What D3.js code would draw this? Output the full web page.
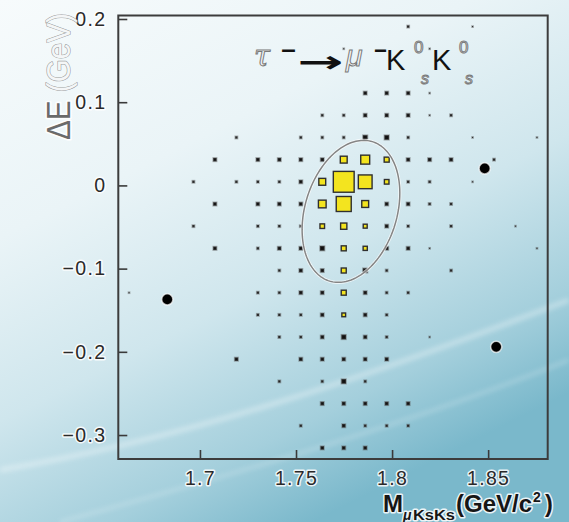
<!DOCTYPE html>
<html>
<head>
<meta charset="utf-8">
<script src="https://cdn.jsdelivr.net/npm/d3@7"></script>
<style>
  html, body { margin: 0; padding: 0; background: #ffffff; }
  svg { display: block; }
  .halo { paint-order: stroke; stroke: #ffffff; stroke-width: 3px; stroke-linejoin: round; stroke-opacity: 0.85; }
</style>
</head>
<body>
<svg id="chart" width="569" height="522"></svg>
<script>
// Axis ranges of the 2D histogram (20 x 20 bins)
const massRange = [1.6575, 1.881];     // M_{μKsKs} (GeV/c²)
const deltaERange = [-0.3288, 0.2042]; // ΔE (GeV)
const nBinsMass = 20;
const nBinsDeltaE = 20;

const massTicks = [1.7, 1.75, 1.8, 1.85];
const massTickLabels = ["1.7", "1.75", "1.8", "1.85"];
const deltaETicks = [-0.3, -0.2, -0.1, 0, 0.1, 0.2];
const deltaETickLabels = ["\u22120.3", "\u22120.2", "\u22120.1", "0", "0.1", "0.2"];

// Background MC: [mass bin, ΔE bin counted from the top, content]
const backgroundCells = [
  [13,0,2],[16,0,1],
  [10,1,1],[14,1,1],
  [11,3,3],[12,3,3],[13,3,3],[14,3,1],
  [9,4,2],[10,4,2],[11,4,3],[12,4,3],[13,4,3],[14,4,1],[15,4,2],
  [5,5,2],[8,5,2],[9,5,2],[10,5,2],[11,5,4],[12,5,4],[13,5,2],[16,5,1],[19,5,1],
  [4,6,3],[6,6,3],[7,6,3],[8,6,3],[9,6,3],[13,6,3],[14,6,3],[15,6,3],[17,6,2],
  [3,7,2],[5,7,2],[6,7,2],[7,7,2],[8,7,3],[13,7,2],[14,7,2],[16,7,1],
  [4,8,3],[6,8,3],[7,8,3],[8,8,3],[12,8,3],[13,8,3],[14,8,2],[15,8,2],
  [3,9,2],[6,9,2],[7,9,2],[8,9,2],[12,9,3],[13,9,2],[15,9,2],[18,9,1],
  [4,10,3],[6,10,2],[7,10,3],[8,10,3],[9,10,4],[12,10,3],[13,10,3],[14,10,1],[19,10,1],
  [7,11,2],[8,11,3],[9,11,3],[11,11,4],[12,11,2],[15,11,2],
  [0,12,1],[6,12,2],[7,12,2],[8,12,3],[9,12,3],[11,12,3],[12,12,2],[13,12,2],
  [6,13,2],[7,13,2],[8,13,2],[9,13,3],[11,13,3],[12,13,2],
  [7,14,2],[8,14,2],[9,14,3],[10,14,4],[11,14,3],[12,14,2],[14,14,1],
  [5,15,3],[8,15,3],[9,15,3],[10,15,3],[11,15,3],[12,15,3],
  [7,16,2],[9,16,2],[10,16,4],[11,16,2],
  [9,17,3],[10,17,3],[11,17,3],[12,17,3],[13,17,3],
  [8,18,2],[10,18,3],[11,18,2],[12,18,2],[13,18,2],
  [9,19,3],[10,19,3],[11,19,3]
];

// Signal MC: [mass bin, ΔE bin counted from the top, content]
const signalCells = [
  [10,6,33],[11,6,43],[12,6,24],
  [9,7,33],[10,7,100],[11,7,66],[12,7,22],
  [9,8,37],[10,8,72],[11,8,33],
  [9,9,22],[10,9,30],[11,9,19],
  [10,10,24],[11,10,20],
  [10,11,24],[10,12,24],[10,13,18]
];

// Observed events
const eventMass = [1.683, 1.8482, 1.8542];
const eventDeltaE = [-0.137, 0.0204, -0.194];

// Signal region ellipse: centre and two conjugate semi-axis vectors (GeV/c², GeV)
const ellipseCentre = [1.7786, -0.0312];
const ellipseAxisA = [0.01109, 0.0838];
const ellipseAxisB = [0.02288, -0.01613];

const svg = d3.select("#chart");
const W = 569, H = 522;
const frame = { left: 118.3, right: 547.7, top: 15.5, bottom: 459 };

const x = d3.scaleLinear().domain(massRange).range([frame.left, frame.right]);
const y = d3.scaleLinear().domain(deltaERange).range([frame.bottom, frame.top]);

// ---------- background ----------
const defs = svg.append("defs");
const grad = defs.append("linearGradient").attr("id", "bg")
  .attr("x1", 0).attr("y1", 0).attr("x2", 0.55).attr("y2", 1);
[[0, "#f7fbfc"], [0.35, "#eaf4f7"], [0.62, "#cfe6ed"], [0.85, "#a4cfdc"], [1, "#7ab8cb"]]
  .forEach(([o, c]) => grad.append("stop").attr("offset", o).attr("stop-color", c));
defs.append("filter").attr("id", "soft").append("feGaussianBlur").attr("stdDeviation", 2.5);

svg.append("rect").attr("width", W).attr("height", H).attr("fill", "url(#bg)");
// faint light streaks across the lower part
svg.append("path").attr("d", "M0,470 C180,440 360,380 569,300")
  .attr("fill", "none").attr("stroke", "#ffffff").attr("stroke-width", 5)
  .attr("opacity", 0.35).attr("filter", "url(#soft)");
svg.append("path").attr("d", "M60,522 C250,470 420,420 569,360")
  .attr("fill", "none").attr("stroke", "#ffffff").attr("stroke-width", 3)
  .attr("opacity", 0.25).attr("filter", "url(#soft)");

// ---------- histogram boxes ----------
const massStep = (massRange[1] - massRange[0]) / nBinsMass;
const deltaEStep = (deltaERange[1] - deltaERange[0]) / nBinsDeltaE;
const binCentreX = i => x(massRange[0] + (i + 0.5) * massStep);
const binCentreY = j => y(deltaERange[1] - (j + 0.5) * deltaEStep);
const cellWidth = x(massRange[0] + massStep) - x(massRange[0]);

const bgSize = d3.scaleLinear().domain([0, 4]).range([0, 4.6]);
svg.append("g").selectAll("rect").data(backgroundCells).join("rect")
  .attr("x", d => binCentreX(d[0]) - bgSize(d[2]) / 2)
  .attr("y", d => binCentreY(d[1]) - bgSize(d[2]) / 2)
  .attr("width", d => bgSize(d[2]))
  .attr("height", d => bgSize(d[2]))
  .attr("fill", "#111")
  .attr("stroke", "rgba(90,90,90,0.45)")
  .attr("stroke-width", 1.6);

const sigSize = d3.scaleLinear().domain([0, d3.max(signalCells, d => d[2])]).range([0, cellWidth * 0.97]);
svg.append("g").selectAll("rect").data(signalCells).join("rect")
  .attr("x", d => binCentreX(d[0]) - sigSize(d[2]) / 2)
  .attr("y", d => binCentreY(d[1]) - sigSize(d[2]) / 2)
  .attr("width", d => sigSize(d[2]))
  .attr("height", d => sigSize(d[2]))
  .attr("fill", "#f3e41f")
  .attr("stroke", "#2f2f2f")
  .attr("stroke-width", 1.4);

// ---------- signal ellipse ----------
const ellipsePts = d3.range(0, 2 * Math.PI, Math.PI / 90).map(t => [
  ellipseCentre[0] + Math.cos(t) * ellipseAxisA[0] + Math.sin(t) * ellipseAxisB[0],
  ellipseCentre[1] + Math.cos(t) * ellipseAxisA[1] + Math.sin(t) * ellipseAxisB[1]
]);
const ellipseLine = d3.line().x(d => x(d[0])).y(d => y(d[1])).curve(d3.curveLinearClosed);
svg.append("path").attr("d", ellipseLine(ellipsePts))
  .attr("fill", "none").attr("stroke", "#ffffff").attr("stroke-width", 3.2).attr("opacity", 0.7);
svg.append("path").attr("d", ellipseLine(ellipsePts))
  .attr("fill", "none").attr("stroke", "#858585").attr("stroke-width", 1.5);

// ---------- observed events ----------
svg.append("g").selectAll("circle").data(d3.zip(eventMass, eventDeltaE)).join("circle")
  .attr("cx", d => x(d[0])).attr("cy", d => y(d[1])).attr("r", 5.6)
  .attr("fill", "#000").attr("stroke", "rgba(255,255,255,0.7)").attr("stroke-width", 1.5);

// ---------- axes ----------
const axisFont = "'Liberation Sans', Arial, sans-serif";
const yAxis = d3.axisLeft(y).tickValues(deltaETicks)
  .tickFormat((d, i) => deltaETickLabels[i])
  .tickSizeInner(-9).tickSizeOuter(0).tickPadding(12);
const gy = svg.append("g").attr("transform", `translate(${frame.left},0)`).call(yAxis);
const xAxis = d3.axisBottom(x).tickValues(massTicks)
  .tickFormat((d, i) => massTickLabels[i])
  .tickSizeInner(-9).tickSizeOuter(0).tickPadding(12);
const gx = svg.append("g").attr("transform", `translate(0,${frame.bottom})`).call(xAxis);

[gx, gy].forEach(g => {
  g.select(".domain").remove();
  g.selectAll(".tick line").attr("stroke", "#3a3a3a").attr("stroke-width", 1.6);
  g.selectAll(".tick text")
    .attr("class", "halo")
    .attr("font-family", axisFont).attr("font-size", 19.5)
    .attr("letter-spacing", "1.3px")
    .attr("fill", "#2a2a2a");
});

// frame
svg.append("rect")
  .attr("x", frame.left).attr("y", frame.top)
  .attr("width", frame.right - frame.left).attr("height", frame.bottom - frame.top)
  .attr("fill", "none").attr("stroke", "#3c3c3c").attr("stroke-width", 2);

// ---------- y-axis title ----------
const yTitle = svg.append("text").attr("class", "halo")
  .attr("transform", "translate(70,140) rotate(-90) scale(1,1.2)")
  .attr("font-family", axisFont).attr("font-size", 28)
  .attr("textLength", 127).attr("lengthAdjust", "spacingAndGlyphs");
yTitle.append("tspan").text("\u0394E ").attr("fill", "#6a6a6a");
yTitle.append("tspan").text("(GeV)").attr("fill", "#f4f6f7")
  .style("stroke", "#8a8a8a").style("stroke-width", "1px");

// ---------- x-axis title ----------
const xt = svg.append("g").attr("font-family", axisFont).attr("font-weight", "bold").attr("fill", "#161616");
xt.append("text").attr("class", "halo").attr("x", 383).attr("y", 512)
  .attr("font-size", 23.5).attr("textLength", 20).attr("lengthAdjust", "spacingAndGlyphs").text("M");
xt.append("text").attr("class", "halo").attr("x", 403).attr("y", 520)
  .attr("font-size", 14).attr("font-style", "italic").text("\u03bc");
xt.append("text").attr("class", "halo").attr("x", 413).attr("y", 520)
  .attr("font-size", 14).attr("textLength", 42).attr("lengthAdjust", "spacingAndGlyphs").text("KsKs");
xt.append("text").attr("class", "halo").attr("x", 456).attr("y", 512)
  .attr("font-size", 23.5).attr("textLength", 76).attr("lengthAdjust", "spacingAndGlyphs").text("(GeV/c");
xt.append("text").attr("class", "halo").attr("x", 533).attr("y", 502)
  .attr("font-size", 14).text("2");
xt.append("text").attr("class", "halo").attr("x", 545).attr("y", 512)
  .attr("font-size", 23.5).text(")");

// ---------- decay title ----------
const tt = svg.append("g").attr("font-family", axisFont);
const outlined = sel => sel.attr("fill", "#f2f4f5").style("stroke", "#7a7a7a").style("stroke-width", "1px");
const dark = sel => sel.attr("fill", "#111");
outlined(tt.append("text").attr("x", 254).attr("y", 66).attr("font-size", 29)
  .attr("font-style", "italic").attr("font-family", "'DejaVu Serif', serif").text("\u03c4"));
dark(tt.append("text").attr("x", 281).attr("y", 58).attr("font-size", 22)
  .attr("font-weight", "bold").attr("textLength", 15).attr("lengthAdjust", "spacingAndGlyphs").text("\u2212"));
dark(tt.append("text").attr("x", 297).attr("y", 72).attr("font-size", 30)
  .attr("font-family", "'DejaVu Sans', sans-serif").attr("font-weight", "bold")
  .attr("textLength", 46).attr("lengthAdjust", "spacingAndGlyphs").text("\u2192"));
outlined(tt.append("text").attr("x", 346).attr("y", 66).attr("font-size", 30)
  .attr("font-style", "italic").text("\u03bc"));
dark(tt.append("text").attr("x", 374).attr("y", 58).attr("font-size", 22)
  .attr("font-weight", "bold").attr("textLength", 13).attr("lengthAdjust", "spacingAndGlyphs").text("\u2212"));
dark(tt.append("text").attr("x", 386).attr("y", 70).attr("font-size", 29).text("K"));
outlined(tt.append("text").attr("x", 414).attr("y", 53).attr("font-size", 17).text("0"));
outlined(tt.append("text").attr("x", 421).attr("y", 84).attr("font-size", 16).attr("font-style", "italic").text("s"));
dark(tt.append("text").attr("x", 432).attr("y", 70).attr("font-size", 29).text("K"));
outlined(tt.append("text").attr("x", 459).attr("y", 53).attr("font-size", 17).text("0"));
outlined(tt.append("text").attr("x", 465).attr("y", 84).attr("font-size", 16).attr("font-style", "italic").text("s"));
</script>
</body>
</html>
